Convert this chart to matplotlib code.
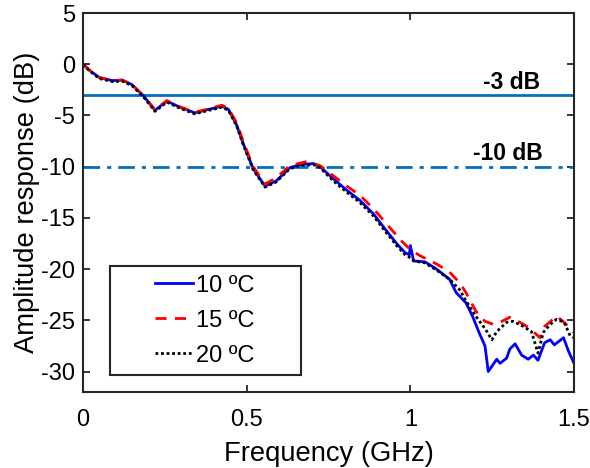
import matplotlib
matplotlib.use('Agg')
import matplotlib.pyplot as plt
from matplotlib.patches import Rectangle

plt.rcParams['font.family'] = ['Liberation Sans', 'DejaVu Sans']
plt.rcParams['axes.unicode_minus'] = False

# 10 ºC
f10 = [0, 0.02, 0.05, 0.09, 0.12, 0.15, 0.185, 0.22, 0.256, 0.296, 0.342, 0.378, 0.424, 0.444,
       0.469, 0.49, 0.52, 0.556, 0.59, 0.632, 0.663, 0.704, 0.724, 0.765, 0.806, 0.846, 0.887,
       0.923, 0.958, 0.984, 0.997, 1.0, 1.01, 1.045, 1.08, 1.12, 1.14, 1.17, 1.19, 1.21, 1.228,
       1.238, 1.264, 1.274, 1.294, 1.304, 1.32, 1.34, 1.36, 1.376, 1.39, 1.41, 1.427, 1.44,
       1.468, 1.483, 1.5]
a10 = [0, -0.6, -1.3, -1.6, -1.55, -2.0, -3.1, -4.5, -3.6, -4.2, -4.75, -4.45, -4.1, -4.4,
       -5.9, -7.8, -10.2, -11.9, -11.4, -10.1, -9.8, -9.7, -10.0, -11.2, -12.3, -13.3, -14.6,
       -16.1, -17.5, -18.4, -18.6, -17.7, -19.2, -19.3, -20.0, -21.0, -22.3, -23.3, -24.6, -26.2,
       -27.5, -30.0, -28.8, -29.2, -28.7, -27.8, -27.3, -28.4, -28.8, -28.4, -28.9, -27.2, -26.9,
       -27.4, -26.7, -28.0, -29.2]

# 15 ºC
f15 = [0, 0.02, 0.05, 0.09, 0.12, 0.15, 0.185, 0.22, 0.256, 0.296, 0.342, 0.378, 0.424, 0.444,
       0.469, 0.49, 0.52, 0.556, 0.59, 0.632, 0.683, 0.724, 0.765, 0.806, 0.846, 0.887, 0.928,
       0.968, 1.0, 1.03, 1.08, 1.12, 1.15, 1.17, 1.2, 1.228, 1.254, 1.274, 1.304, 1.335, 1.356,
       1.386, 1.396, 1.41, 1.447, 1.47, 1.49, 1.5]
a15 = [0, -0.6, -1.3, -1.6, -1.55, -2.0, -3.1, -4.45, -3.55, -4.15, -4.7, -4.4, -4.0, -4.3,
       -5.7, -7.6, -10.0, -11.7, -11.1, -9.9, -9.5, -9.9, -10.9, -11.9, -12.8, -14.1, -15.6,
       -17.1, -18.1, -18.7, -19.5, -20.3, -21.3, -22.3, -24.1, -25.1, -25.4, -25.2, -24.7, -25.2,
       -25.6, -26.4, -26.7, -25.6, -24.6, -25.2, -25.9, -26.2]

# 20 ºC
f20 = [0, 0.02, 0.05, 0.09, 0.12, 0.15, 0.185, 0.22, 0.256, 0.296, 0.342, 0.378, 0.424, 0.444,
       0.469, 0.49, 0.52, 0.556, 0.59, 0.632, 0.663, 0.704, 0.724, 0.765, 0.806, 0.846, 0.887,
       0.923, 0.958, 0.984, 1.0, 1.01, 1.045, 1.08, 1.12, 1.15, 1.17, 1.2, 1.23, 1.249, 1.264,
       1.294, 1.314, 1.345, 1.37, 1.39, 1.406, 1.427, 1.447, 1.47, 1.488, 1.5]
a20 = [0, -0.65, -1.4, -1.7, -1.65, -2.1, -3.2, -4.6, -3.7, -4.3, -4.85, -4.55, -4.2, -4.5,
       -6.0, -7.9, -10.3, -12.0, -11.5, -10.2, -9.9, -9.8, -10.1, -11.4, -12.5, -13.5, -14.8,
       -16.3, -17.7, -18.6, -18.9, -19.2, -19.4, -20.1, -21.0, -22.0, -23.1, -24.6, -25.9, -26.9,
       -26.1, -25.2, -25.1, -25.6, -26.1, -28.2, -26.2, -25.4, -24.9, -25.2, -26.5, -26.7]

ref_levels = [-3, -10]
ref_labels = ['-3 dB', '-10 dB']
xticks = [0, 0.5, 1, 1.5]
xticklabels = ['0', '0.5', '1', '1.5']
yticks = [-30, -25, -20, -15, -10, -5, 0, 5]

fig = plt.figure(figsize=(5.9, 4.68), dpi=100)
ax = fig.add_axes([0.1407, 0.1624, 0.8322, 0.8098])

ax.axhline(ref_levels[0], color='#0072BD', lw=2, ls='-')
ax.axhline(ref_levels[1], color='#0072BD', lw=2, ls=(0, (6, 2.5, 1.5, 2.5)))

ax.plot(f10, a10, color='#0000FF', lw=2, ls='-', label='10 ºC')
ax.plot(f15, a15, color='#FF0000', lw=2, ls=(0, (4, 3)), label='15 ºC')
ax.plot(f20, a20, color='black', lw=2, ls=(0, (1, 1)), label='20 ºC')

ax.text(1.308, -1.8, ref_labels[0], fontsize=16.5, fontweight='bold', ha='center', va='center')
ax.text(1.298, -8.7, ref_labels[1], fontsize=16.5, fontweight='bold', ha='center', va='center')

ax.set_xlim(0, 1.5)
ax.set_ylim(-32, 5)
ax.set_xticks(xticks)
ax.set_xticklabels(xticklabels)
ax.set_yticks(yticks)
ax.tick_params(direction='in', top=True, right=True, labelsize=17, length=5,
               width=1.3, color='#262626')
ax.tick_params(axis='x', pad=12.5)
ax.tick_params(axis='y', pad=5.5)
for sp in ax.spines.values():
    sp.set_linewidth(1.5)
    sp.set_color('#262626')

ax.set_xlabel('Frequency (GHz)', fontsize=19.7, labelpad=7)
ax.set_ylabel('Amplitude response (dB)', fontsize=19.7, labelpad=1)

# legend box drawn separately (wider than the entries, as in the original)
ax.add_patch(Rectangle((0.055, 0.045), 0.389, 0.287, transform=ax.transAxes,
                       facecolor='white', edgecolor='#262626', lw=1.5, zorder=4))
leg = ax.legend(loc='center', bbox_to_anchor=(0.2475, 0.1885), fontsize=17,
                frameon=False, handlelength=1.6, handletextpad=0.13,
                borderpad=0, labelspacing=0.55)
leg.set_zorder(5)

fig.savefig('out.png', dpi=100)
